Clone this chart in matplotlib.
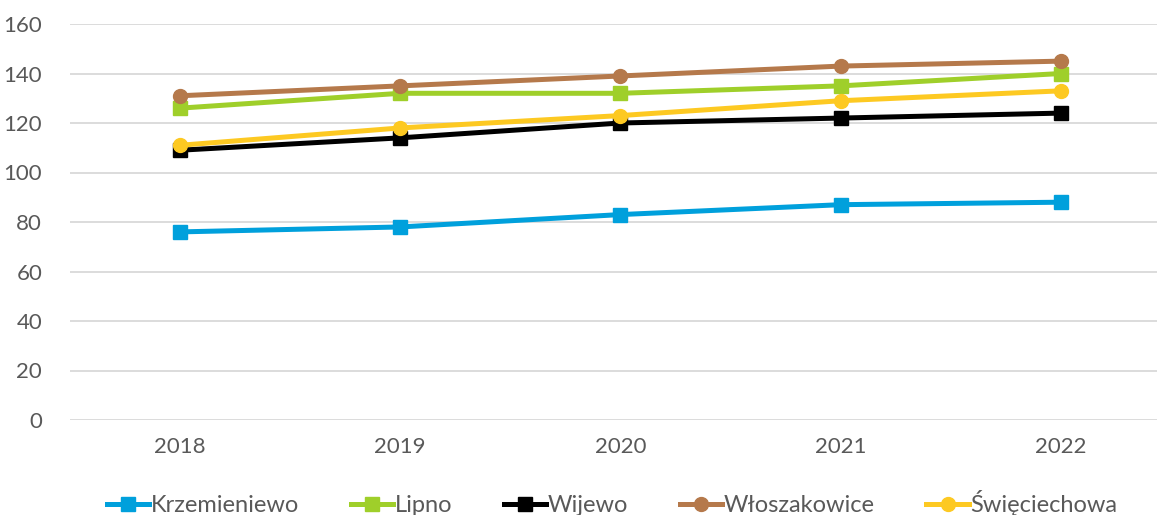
import matplotlib.pyplot as plt

years = ['2018', '2019', '2020', '2021', '2022']
krzemieniewo = [76, 78, 83, 87, 88]
lipno = [126, 132, 132, 135, 140]
wijewo = [109, 114, 120, 122, 124]
wloszakowice = [131, 135, 139, 143, 145]
swieciechowa = [111, 118, 123, 129, 133]

plt.rcParams['font.family'] = ['Lato', 'DejaVu Sans']
TXT = '#595959'

fig = plt.figure(figsize=(11.57, 5.15), dpi=100)
ax = fig.add_axes([70 / 1157, 95 / 515, 1087 / 1157, 396 / 515])

x = list(range(len(years)))
series = [
    ('Krzemieniewo', krzemieniewo, '#00a0dc', 's'),
    ('Lipno', lipno, '#9fcf2a', 's'),
    ('Wijewo', wijewo, '#000000', 's'),
    ('Włoszakowice', wloszakowice, '#b5794b', 'o'),
    ('Święciechowa', swieciechowa, '#fdc922', 'o'),
]
for name, vals, col, mk in series:
    ax.plot(x, vals, color=col, lw=3.6, marker=mk, ms=10, label=name, zorder=3)

ax.set_ylim(0, 160)
ax.set_yticks(range(0, 161, 20))
ax.set_xlim(-0.4994, 4.436)
ax.set_xticks(x)
ax.set_xticklabels(years)
ax.grid(axis='y', color='#d9d9d9', lw=1.3)
ax.set_axisbelow(True)
for s in ax.spines.values():
    s.set_visible(False)
ax.tick_params(length=0, labelsize=16, colors=TXT)
ax.tick_params(axis='y', pad=20)
ax.tick_params(axis='x', pad=12)

fig.legend(loc='center', bbox_to_anchor=(612 / 1157, 12 / 515), ncol=5,
           frameon=False, fontsize=17, labelcolor=TXT, handlelength=1.8,
           handletextpad=0.05, columnspacing=2.2, borderaxespad=0)

fig.savefig('out.png', dpi=100)
